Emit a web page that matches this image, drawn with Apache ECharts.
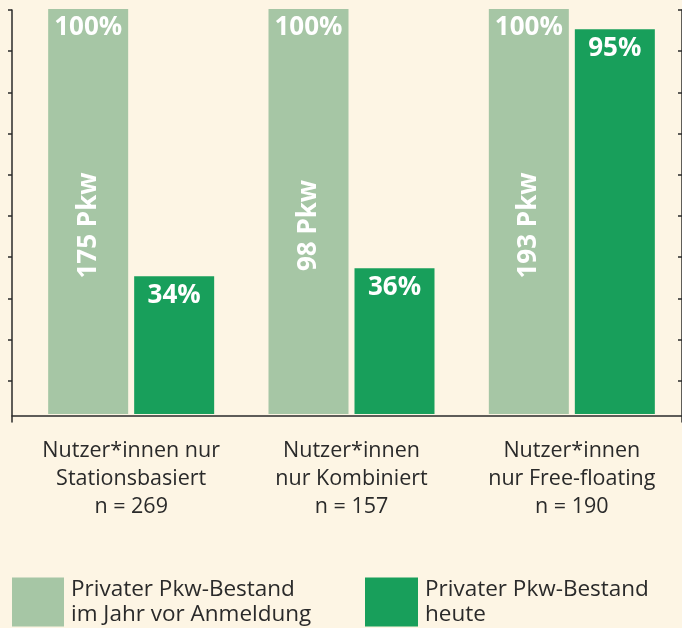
<!DOCTYPE html>
<html>
<head>
<meta charset="utf-8">
<script src="https://cdn.jsdelivr.net/npm/echarts@6/dist/echarts.min.js"></script>
<style>
  html, body { margin: 0; padding: 0; background: #fdf5e4; }
  #chart { width: 682px; height: 628px; }
</style>
</head>
<body>
<div id="chart"></div>
<script>
  // Kategorien (Nutzergruppen)
  const categories = [
    'Nutzer*innen nur\nStationsbasiert\nn = 269',
    'Nutzer*innen\nnur Kombiniert\nn = 157',
    'Nutzer*innen\nnur Free-floating\nn = 190'
  ];
  // Anteil privater Pkw im Jahr vor Anmeldung (%)
  const beforeShares = [100, 100, 100];
  // Anteil privater Pkw heute (%)
  const todayShares = [34, 36, 95];
  // Anzahl Pkw im Jahr vor Anmeldung
  const pkwCounts = [175, 98, 193];
  // Teilstriche der linken Achse
  const tickValues = [10, 20, 30, 40, 50, 60, 70, 80, 90, 100];

  const nameBefore = 'Privater Pkw-Bestand\nim Jahr vor Anmeldung';
  const nameToday = 'Privater Pkw-Bestand\nheute';

  const lightGreen = '#a6c6a5';
  const darkGreen = '#189f5b';
  const ink = '#2a2a2a';

  const valueLabel = {
    show: true,
    position: 'insideTop',
    distance: 6,
    formatter: '{c}%',
    color: '#fff',
    fontSize: 26,
    fontWeight: 'bold',
    fontFamily: 'Open Sans'
  };

  const legendText = { color: ink, fontSize: 22.5, lineHeight: 25, fontFamily: 'Open Sans', padding: [0, 0, 0, 2] };

  let myChart = echarts.init(document.getElementById('chart'));
  myChart.setOption({
    backgroundColor: '#fdf5e4',
    animation: false,
    grid: [
      // Balken
      { left: 21, right: 0, top: 9, bottom: 214 },
      // Achsenlinien
      { left: 12, right: 0, top: 10, bottom: 206 }
    ],
    legend: [
      {
        data: [nameBefore],
        left: 12, top: 577, padding: 0,
        icon: 'rect', itemWidth: 52, itemHeight: 49,
        textStyle: legendText
      },
      {
        data: [nameToday],
        left: 365, top: 577, padding: 0,
        icon: 'rect', itemWidth: 53, itemHeight: 49,
        textStyle: legendText
      }
    ],
    xAxis: [
      {
        type: 'category',
        gridIndex: 0,
        data: categories,
        axisLine: { show: false },
        axisTick: { show: false },
        axisLabel: { interval: 0, color: ink, fontSize: 21.5, lineHeight: 28, margin: 23, fontFamily: 'Open Sans' }
      },
      // versteckte Achse für die gedrehten Pkw-Beschriftungen
      {
        type: 'category',
        gridIndex: 0,
        data: categories,
        show: false
      },
      // x-Achsenlinie
      {
        type: 'value',
        gridIndex: 1,
        offset: -6,
        axisLine: { show: true, lineStyle: { color: ink, width: 1.5 } },
        axisTick: { show: false },
        axisLabel: { show: false },
        splitLine: { show: false }
      }
    ],
    yAxis: [
      { type: 'value', gridIndex: 0, min: 0, max: 100, show: false },
      {
        type: 'value', gridIndex: 1, min: 0, max: 100,
        axisLine: { show: true, lineStyle: { color: ink, width: 1.5 } },
        axisTick: { show: true, length: 4, customValues: tickValues, lineStyle: { color: ink, width: 1.5 } },
        axisLabel: { show: false },
        splitLine: { show: false }
      },
      {
        type: 'value', gridIndex: 1, min: 0, max: 100,
        axisLine: { show: true, lineStyle: { color: ink, width: 1.5 } },
        axisTick: { show: true, inside: true, length: 4, customValues: tickValues, lineStyle: { color: ink, width: 1.5 } },
        axisLabel: { show: false },
        splitLine: { show: false }
      }
    ],
    series: [
      {
        name: nameBefore,
        type: 'bar',
        barWidth: 80,
        barGap: '7.5%',
        itemStyle: { color: lightGreen },
        label: valueLabel,
        data: beforeShares
      },
      {
        name: nameToday,
        type: 'bar',
        barWidth: 80,
        barGap: '7.5%',
        itemStyle: { color: darkGreen },
        label: valueLabel,
        data: todayShares
      },
      // transparente Balken, tragen nur die Pkw-Anzahl
      {
        type: 'bar',
        xAxisIndex: 1,
        barWidth: 80,
        barGap: '7.5%',
        silent: true,
        itemStyle: { color: 'rgba(0,0,0,0)' },
        label: {
          show: true,
          position: 'inside',
          rotate: 90,
          offset: [-14, 0],
          formatter: function (p) { return pkwCounts[p.dataIndex] + ' Pkw'; },
          color: '#fff',
          fontSize: 26,
          fontWeight: 'bold',
          fontFamily: 'Open Sans'
        },
        data: beforeShares
      },
      {
        type: 'bar',
        xAxisIndex: 1,
        barWidth: 80,
        barGap: '7.5%',
        silent: true,
        data: ['-', '-', '-']
      }
    ]
  });
</script>
</body>
</html>
